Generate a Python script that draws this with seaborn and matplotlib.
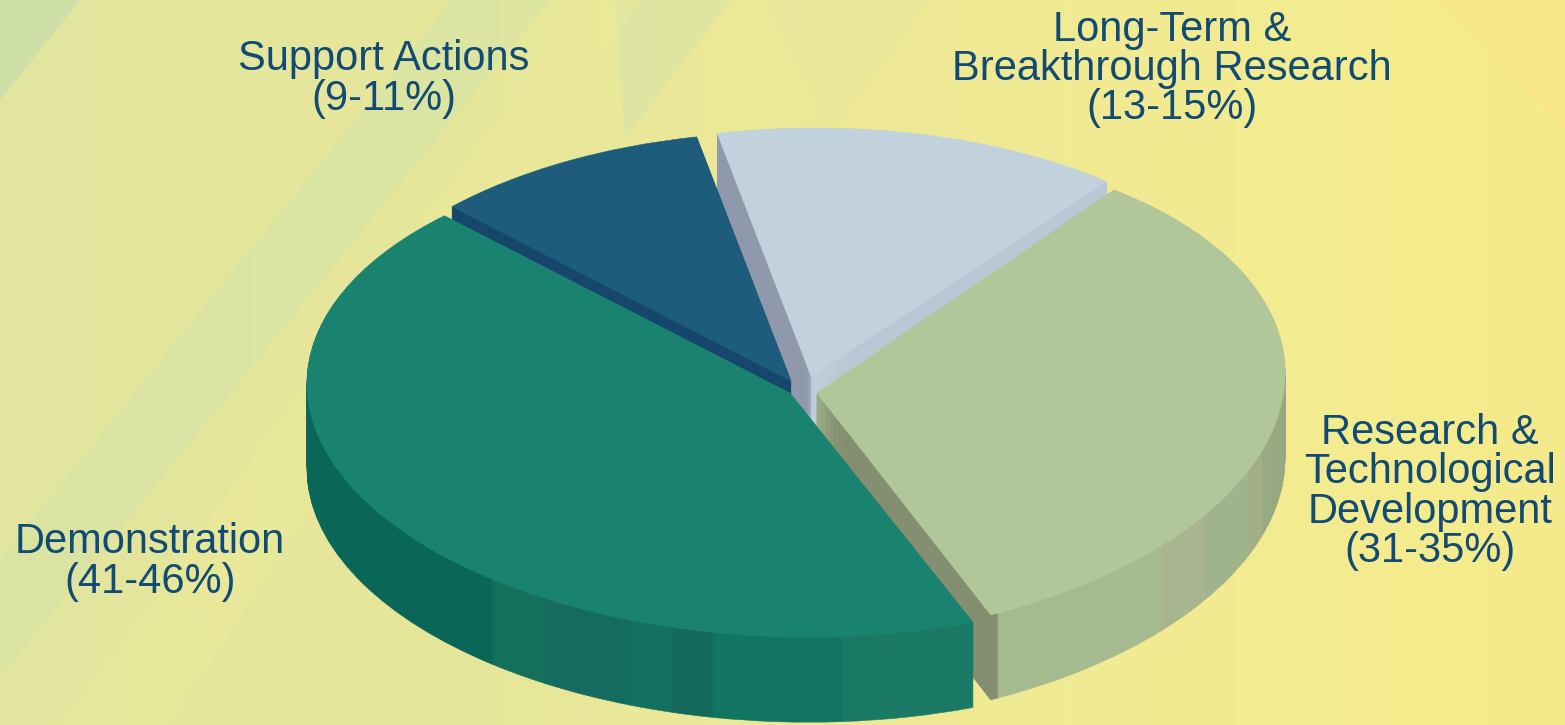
import numpy as np
import seaborn as sns
import matplotlib.pyplot as plt
from matplotlib.colors import to_rgb
from matplotlib.transforms import Affine2D

# Data
categories = ["Research &\nTechnological\nDevelopment", "Long-Term &\nBreakthrough Research", "Support Actions", "Demonstration"]
ranges = ["(31-35%)", "(13-15%)", "(9-11%)", "(41-46%)"]
shares = [33.0, 14.0, 9.5, 43.5]

# Style
top_colors = ["#b2c799", "#c2d2dc", "#1e5c7b", "#1a8370"]
wall_widths = [
    [1, 24.9, 8.6, 11.1, 4.8, 4.7, 63.7],
    [1, 48.4, 1],
    [1],
    [96.3, 7.5, 11.2, 5.2, 4.9, 15.5, 16],
]
wall_colors = [
    ["#848f71", "#a6ba90", "#a8b58e", "#9fb48b", "#a3ae87", "#97ab83", "#98a981"],
    ["#bac7d5", "#c2d2dc", "#9099ab"],
    ["#16466b"],
    ["#0a6757", "#146f5b", "#146b5e", "#13705e", "#12695c", "#117561", "#1a7a66"],
]
# per slice projection onto the picture: x0, y0, then the 2x2 matrix
slice_fit = [
    (817, 393, 468, 5, -17, -247),
    (811, 376, 471, 1, -2, -248),
    (791, 381, 474, 1, 1, -249),
    (790, 393, 483, 1, 10, -244),
]
label_pos = [(1430, 492), (1172, 69), (384, 79), (150, 562)]
draw_order = [1, 2, 0, 3]
start_angle = -67.6
depth = 85
text_color = "#114a73"

sns.set_theme(style="white")
plt.rcParams["font.family"] = ["Liberation Sans", "DejaVu Sans"]

fig = plt.figure(figsize=(15.65, 7.25), dpi=100)
ax = fig.add_axes([0, 0, 1, 1])

# Background
stops_x = [0, 500, 900, 1400, 1565]
stops_c = np.array([to_rgb(c) for c in ["#e2e59e", "#e7e79a", "#efe996", "#f4ec8e", "#f5ea8b"]])
grad = np.stack([np.interp(np.arange(1565), stops_x, stops_c[:, i]) for i in range(3)], axis=-1)
ax.imshow(grad[np.newaxis, :, :], extent=(0, 1565, 725, 0), aspect="auto", zorder=0)
ax.fill([0, 452, 550, 0], [560, 0, 0, 677], color="#cfe2ac", alpha=0.4, lw=0, zorder=1)
ax.fill([0, 80, 0], [0, 0, 100], color="#c9dfac", alpha=0.8, lw=0, zorder=1)
ax.fill([615, 730, 625], [0, 0, 140], color="#d5e2aa", alpha=0.5, lw=0, zorder=1)
ax.fill([770, 930, 830], [0, 0, 130], color="#d5e2aa", alpha=0.2, lw=0, zorder=1)
ax.fill([585, 640, 170, 60], [0, 0, 725, 725], color="#f0ec98", alpha=0.35, lw=0, zorder=1)
ax.fill([1440, 1565, 1565], [0, 0, 130], color="#fbe484", alpha=0.7, lw=0, zorder=1)


def draw_layer(values, colors, angle, fit, shift, z):
    wedges, _ = ax.pie(np.array(values) / 100, colors=colors, startangle=angle, normalize=False)
    x0, y0, a, b, c, d = fit
    tr = Affine2D.from_values(a, c, b, d, x0, y0 + shift) + ax.transData
    for w, col in zip(wedges, colors):
        w.set_transform(tr)
        w.set_edgecolor(col)
        w.set_linewidth(0.4)
        w.set_zorder(z)


starts = start_angle + np.cumsum([0] + shares[:-1]) * 3.6
z = 2
for i in draw_order:
    band_shares = np.array(wall_widths[i]) / sum(wall_widths[i]) * shares[i]
    for shift in range(depth, 0, -1):
        draw_layer(band_shares, wall_colors[i], starts[i], slice_fit[i], shift, z)
        z += 1
    draw_layer([shares[i]], [top_colors[i]], starts[i], slice_fit[i], 0, z)
    z += 1

# pie() forces equal aspect, go back to picture coordinates
ax.set_aspect("auto")
ax.set_xlim(0, 1565)
ax.set_ylim(725, 0)
ax.axis("off")

for name, rng, pos in zip(categories, ranges, label_pos):
    ax.text(pos[0], pos[1], name + "\n" + rng, ha="center", va="center", multialignment="center",
            fontsize=30, linespacing=0.97, color=text_color, zorder=z + 1)

fig.savefig("out.png", dpi=100)
